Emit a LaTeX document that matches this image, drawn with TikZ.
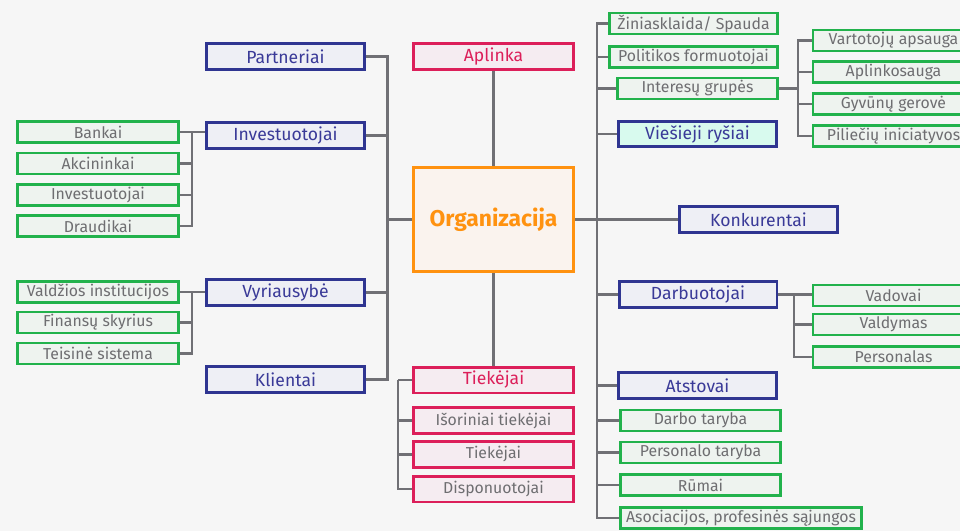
\documentclass[tikz,border=0pt]{standalone}
\usepackage{fontspec}
\setmainfont{Fira Sans}
\definecolor{hubblue}{RGB}{47,53,145}
\definecolor{hubtext}{RGB}{58,58,152}
\definecolor{hubfill}{RGB}{238,239,245}
\definecolor{leafgreen}{RGB}{34,178,76}
\definecolor{leaffill}{RGB}{238,243,239}
\definecolor{supred}{RGB}{220,31,90}
\definecolor{supfill}{RGB}{245,236,241}
\definecolor{orgorange}{RGB}{255,146,16}
\definecolor{orgfill}{RGB}{250,243,238}
\definecolor{mint}{RGB}{216,250,238}
\definecolor{wirecol}{RGB}{112,112,117}
\definecolor{greytext}{RGB}{110,110,113}
\definecolor{bgcol}{RGB}{246,246,246}

\begin{document}
\begin{tikzpicture}[x=0.02cm, y=-0.02cm,
        hub/.style={rectangle, draw=hubblue, fill=hubfill, line width=1.7pt, text=hubtext, minimum width=3.16cm, minimum height=0.52cm, inner sep=0pt, font=\fontsize{10}{12}\selectfont},
        leaf/.style={rectangle, draw=leafgreen, fill=leaffill, line width=1.4pt, text=greytext, minimum width=3.22cm, minimum height=0.42cm, inner sep=0pt, font=\fontsize{9}{11}\selectfont},
        supp/.style={rectangle, draw=supred, fill=supfill, line width=1.7pt, text=supred, minimum width=3.2cm, minimum height=0.52cm, inner sep=0pt, font=\fontsize{10}{12}\selectfont},
        supleaf/.style={supp, text=greytext, font=\fontsize{9}{11}\selectfont},
        core/.style={rectangle, draw=orgorange, fill=orgfill, line width=1.7pt, text=orgorange, minimum width=3.2cm, minimum height=2.08cm, inner sep=0pt, font=\fontsize{13}{15}\selectfont\bfseries},
        wire/.style={draw=wirecol, line width=1.4pt}
      ]
        \useasboundingbox (0,0) rectangle (960,531);
        \clip (0,0) rectangle (960,531);
        \fill[bgcol] (0,0) rectangle (960,531);

        % left side
        \node[hub] (partn)  at (285.5,56.5)  {Partneriai};
        \node[hub] (invest) at (285.5,135.5) {Investuotojai};
        \node[hub] (vyr)    at (285.5,292.5) {Vyriausybė};
        \node[hub] (klient) at (285.5,379.5) {Klientai};

        \node[leaf] (bankai) at (98,132)   {Bankai};
        \node[leaf] (akc)    at (98,163.5) {Akcininkai};
        \node[leaf] (inv2)   at (98,195)   {Investuotojai};
        \node[leaf] (draud)  at (98,226)   {Draudikai};
        \node[leaf] (valdz)  at (98,292)   {Valdžios institucijos};
        \node[leaf] (finans) at (98,322.5) {Finansų skyrius};
        \node[leaf] (teis)   at (98,353.5) {Teisinė sistema};

        % middle
        \node[supp] (aplinka) at (493.5,56.5) {Aplinka};
        \node[core] (org)     at (493.5,219.5) {Organizacija};
        \node[supp] (tiek)    at (493.5,380)  {Tiekėjai};
        \node[supleaf] (isor)  at (493.5,420.5) {Išoriniai tiekėjai};
        \node[supleaf] (tiek2) at (493.5,454.5) {Tiekėjai};
        \node[supleaf] (disp)  at (493.5,489)   {Disponuotojai};

        % right side
        \node[leaf, minimum width=3.36cm] (zin)   at (693.5,23.5) {Žiniasklaida/ Spauda};
        \node[leaf, minimum width=3.36cm] (polit) at (693.5,57)   {Politikos formuotojai};
        \node[leaf, minimum width=3.2cm]  (inter) at (697.5,88.5) {Interesų grupės};
        \node[hub, fill=mint, minimum height=0.5cm] (vies) at (697.5,134) {Viešieji ryšiai};
        \node[leaf] (vart)    at (893.5,40.5) {Vartotojų apsauga};
        \node[leaf] (aplsaug) at (893.5,72)   {Aplinkosauga};
        \node[leaf] (gyv)     at (893.5,104)  {Gyvūnų gerovė};
        \node[leaf] (pil)     at (893.5,136)  {Piliečių iniciatyvos};
        \node[hub] (konk) at (758.5,219.5) {Konkurentai};
        \node[hub] (darb) at (698,294.5)   {Darbuotojai};
        \node[leaf] (vad)    at (893.5,295.5) {Vadovai};
        \node[leaf] (valdym) at (893.5,324.5) {Valdymas};
        \node[leaf] (perso)  at (893.5,357)   {Personalas};
        \node[hub] (atst) at (697.5,385.5) {Atstovai};
        \node[leaf, minimum width=3.2cm]  (darbt) at (700.5,420.5) {Darbo taryba};
        \node[leaf, minimum width=3.2cm]  (perst) at (700.5,452.5) {Personalo taryba};
        \node[leaf, minimum width=3.2cm]  (rumai) at (700.5,485)   {Rūmai};
        \node[leaf, minimum width=4.82cm] (asoc)  at (741,518)     {Asociacijos, profesinės sąjungos};

        % joints
        \coordinate (lt) at (387.5,219.5);
        \coordinate (ij) at (192,132);
        \coordinate (vj) at (192,292);
        \coordinate (tj) at (398,380);
        \coordinate (rt) at (597,219.5);
        \coordinate (gj) at (798,88.5);
        \coordinate (dj) at (794,294.5);

        \foreach \n in {partn,invest,vyr,klient} { \draw[wire] (\n.east) -| (lt); }
        \draw[wire] (lt) -- (org.west);
        \draw[wire] (bankai.east) -- (bankai.east -| invest.west);
        \foreach \n in {akc,inv2,draud} { \draw[wire] (\n.east) -| (ij); }
        \draw[wire] (valdz.east) -- (valdz.east -| vyr.west);
        \foreach \n in {finans,teis} { \draw[wire] (\n.east) -| (vj); }

        \draw[wire] (aplinka) -- (org);
        \draw[wire] (org) -- (tiek);
        \draw[wire] (tiek.west) -- (tj);
        \foreach \n in {isor,tiek2,disp} { \draw[wire] (\n.west) -| (tj); }

        \draw[wire] (org.east) -- (konk.west);
        \foreach \n in {zin,polit,inter,vies,darb,atst,darbt,perst,rumai,asoc} { \draw[wire] (\n.west) -| (rt); }
        \draw[wire] (inter.east) -- (gj);
        \foreach \n in {vart,aplsaug,gyv,pil} { \draw[wire] (\n.west) -| (gj); }
        \draw[wire] (darb.east) -- (darb.east -| vad.west);
        \foreach \n in {valdym,perso} { \draw[wire] (\n.west) -| (dj); }
      \end{tikzpicture}
\end{document}
